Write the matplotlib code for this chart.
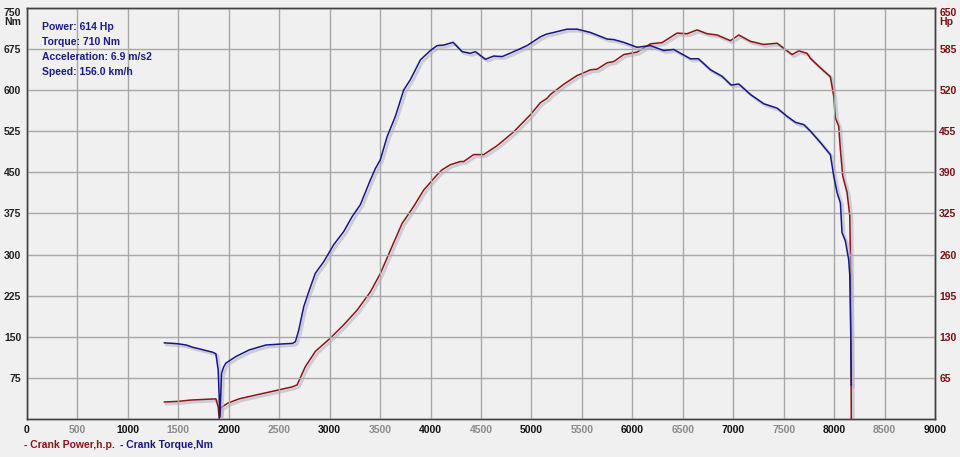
import numpy as np
import matplotlib as mpl
mpl.use('agg')
from matplotlib import pyplot as plt
import matplotlib.patheffects as pe

plt.rcParams['font.family'] = ['Liberation Sans', 'DejaVu Sans']

# torque curve, Nm
torque_rpm = [1363, 1450, 1510, 1580, 1642, 1710, 1774, 1840, 1873, 1896, 1913, 1929,
              1950, 1972, 2071, 2203, 2368, 2533, 2632, 2661, 2694, 2744, 2793, 2859,
              2942, 3041, 3140, 3223, 3305, 3404, 3454, 3503, 3570, 3652, 3734, 3801,
              3900, 3999, 4065, 4131, 4224, 4313, 4395, 4445, 4544, 4626, 4710, 4825,
              4957, 5089, 5150, 5221, 5354, 5453, 5585, 5750, 5816, 5915, 6047, 6180,
              6311, 6410, 6576, 6655, 6774, 6890, 6979, 7055, 7170, 7302, 7435, 7534,
              7617, 7699, 7765, 7865, 7963, 7996, 8029, 8062, 8078, 8111, 8144, 8155,
              8160, 8165, 8170]
torque_nm = [139, 138, 137, 135, 131, 128, 125, 122, 119, 89, 4, 83,
             95, 102, 114, 126, 135, 137, 138, 141, 162, 205, 232, 266,
             287, 318, 342, 369, 391, 436, 457, 473, 515, 552, 600, 619,
             655, 672, 681, 682, 687, 670, 667, 670, 656, 662, 661, 670,
             681, 697, 702, 705, 711, 711, 705, 693, 692, 687, 678, 681,
             672, 674, 657, 657, 637, 625, 609, 611, 592, 575, 567, 552,
             541, 537, 525, 504, 482, 443, 413, 394, 340, 325, 291, 262,
             205, 150, 62]

# power curve, hp
power_rpm = [1363, 1500, 1620, 1750, 1873, 1896, 1906, 1923, 1989, 2104, 2269, 2467,
             2632, 2678, 2760, 2859, 3008, 3140, 3272, 3404, 3503, 3603, 3718, 3833,
             3933, 4065, 4115, 4197, 4296, 4329, 4428, 4527, 4660, 4825, 4990, 5089,
             5156, 5188, 5320, 5453, 5486, 5585, 5651, 5750, 5816, 5915, 6047, 6180,
             6295, 6444, 6543, 6642, 6741, 6840, 6972, 7055, 7170, 7302, 7435, 7500,
             7584, 7650, 7732, 7765, 7864, 7963, 7996, 8012, 8045, 8062, 8085, 8128,
             8155, 8162, 8170]
power_hp = [27, 28, 30, 31, 32, 19, 0, 18, 25, 32, 38, 45,
            51, 54, 83, 107, 128, 149, 172, 201, 230, 267, 309, 336,
            362, 386, 394, 402, 407, 407, 418, 418, 432, 454, 481, 500,
            507, 513, 529, 543, 545, 552, 553, 563, 565, 576, 580, 593,
            595, 610, 609, 615, 609, 607, 598, 607, 597, 592, 594, 586,
            576, 582, 578, 570, 555, 541, 510, 476, 463, 426, 384, 358,
            321, 252, 0]

info_lines = ['Power: 614 Hp', 'Torque: 710 Nm', 'Acceleration: 6.9 m/s2', 'Speed: 156.0 km/h']

bg = '#f0f0f0'
red = '#8c1414'
blue = '#16168a'
fs = 7.5

fig = plt.figure(figsize=(9.6, 4.57), dpi=100, facecolor=bg)
ax = fig.add_axes([0.028, 0.083, 0.946, 0.9])
ax2 = ax.twinx()
ax2.set_facecolor(bg)

shadow = [pe.SimpleLineShadow(offset=(1.5, -1.5), shadow_color='#b4b4c4', alpha=0.6, linewidth=2),
          pe.Normal()]

ax2.plot(power_rpm, power_hp, color=red, lw=1.1, path_effects=shadow, zorder=3)
ax.plot(torque_rpm, torque_nm, color=blue, lw=1.1, path_effects=shadow, zorder=3)
ax.set_zorder(ax2.get_zorder() + 1)
ax.patch.set_visible(False)

ax.set_xlim(0, 9000)
ax.set_ylim(0, 750)
ax2.set_ylim(0, 650)

xt = np.arange(0, 9001, 500)
ax.set_xticks(xt)
ax.set_xticklabels([str(v) for v in xt], fontsize=fs, fontweight='bold')
for v, lab in zip(xt, ax.get_xticklabels()):
    lab.set_color('#111111' if v % 1000 == 0 else '#8a8a8a')

yt = np.arange(75, 751, 75)
ax.set_yticks(yt)
ax.set_yticklabels([str(v) for v in yt[:-1]] + ['750\nNm'], fontsize=fs,
                   fontweight='bold', color='#222222', linespacing=0.95)
ax.get_yticklabels()[-1].set_verticalalignment('top')

yt2 = np.arange(65, 651, 65)
ax2.set_yticks(yt2)
ax2.set_yticklabels([str(v) for v in yt2[:-1]] + ['650\nHp'], fontsize=fs,
                    fontweight='bold', color='#7a1010', linespacing=0.95)
ax2.get_yticklabels()[-1].set_verticalalignment('top')

ax.tick_params(axis='y', length=0, pad=4)
ax.tick_params(axis='x', length=0, pad=4)
ax2.tick_params(length=0, pad=3)
ax2.grid(False)
ax.grid(True, color='#a8a8a8', lw=1)
for a in (ax, ax2):
    for s in a.spines.values():
        s.set_color('#404040')
        s.set_linewidth(1)

for i, line in enumerate(info_lines):
    fig.text(0.044, 1 - (27 + i * 15) / 457, line, fontsize=fs, fontweight='bold',
             color='#1a1a8c', va='center')

fig.text(0.025, 1 - 445 / 457, '- Crank Power,h.p.', fontsize=fs, fontweight='bold',
         color=red, va='center')
fig.text(0.125, 1 - 445 / 457, '- Crank Torque,Nm', fontsize=fs, fontweight='bold',
         color=blue, va='center')

plt.savefig('out.png', dpi=100, facecolor=bg)
